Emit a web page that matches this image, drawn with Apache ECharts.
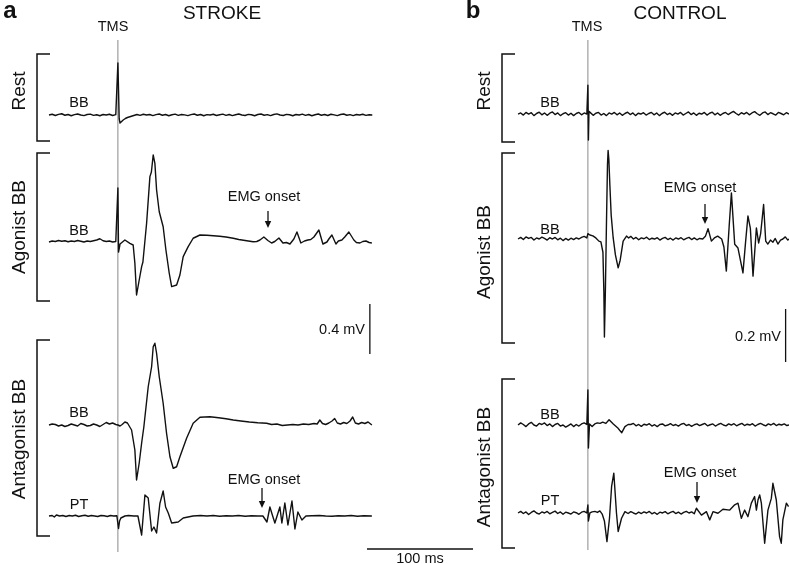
<!DOCTYPE html>
<html>
<head>
<meta charset="utf-8">
<script src="https://cdn.jsdelivr.net/npm/echarts@6/dist/echarts.min.js"></script>
<style>
html, body { margin: 0; padding: 0; background: #fff; }
#chart { width: 789px; height: 564px; }
</style>
</head>
<body>
<div id="chart"></div>
<script>
// time in ms after TMS, amplitude in mV (relative to each trace's baseline)

// STROKE (a)
var strokeRest = [[-65,0],[-62,0.006],[-59,-0.004],[-56,0.005],[-53,0.010],[-50,-0.002],[-47,0.004],[-44,-0.006],[-41,0.003],[-38,0.008],[-35,0],[-32,-0.005],[-29,0.004],[-26,0.007],[-23,-0.003],[-20,0.002],[-17,-0.006],[-14,0.004],[-11,0],[-8,0.006],[-5,-0.004],[-2,0.003],[-0.5,0],[0,0.416],[0.6,0.2],[1.2,-0.03],[2,-0.064],[3.5,-0.056],[5,-0.04],[7,-0.028],[9,-0.02],[12,-0.012],[15,-0.004],[18,0.004],[21,-0.003],[24,0.006],[27,0],[30,0.004],[33,-0.005],[36,0.003],[39,0.008],[42,-0.002],[45,0.004],[48,-0.006],[51,0.002],[54,0.007],[57,-0.003],[60,0.004],[63,0.001],[66,-0.005],[69,0.003],[72,0.008],[75,-0.002],[78,0.004],[81,-0.006],[84,0.003],[87,0],[90,0.006],[93,-0.004],[96,0.002],[99,0.007],[102,-0.003],[105,0.004],[108,-0.005],[111,0.002],[114,0.008],[117,0],[120,-0.004],[123,0.005],[126,0.002],[129,-0.006],[132,0.004],[135,0.008],[138,-0.002],[141,0.003],[144,-0.005],[147,0.004],[150,0.009],[153,0],[156,-0.004],[159,0.005],[162,0.002],[165,-0.006],[168,0.004],[171,0],[174,0.007],[177,-0.003],[180,0.004],[183,-0.006],[186,0.002],[189,0.008],[192,-0.002],[195,0.004],[198,-0.004],[201,0.006],[204,0.001],[207,-0.005],[210,0.004],[213,0.008],[216,-0.002],[219,0.003],[222,-0.005],[225,0.004],[228,0],[231,0.006],[234,-0.003],[237,0.002],[240,0]];

var strokeAgonist = [[-65,0],[-62,0.008],[-59,0.004],[-56,0.012],[-53,0.006],[-50,0.010],[-47,0.002],[-44,0.008],[-41,0.004],[-38,0.012],[-35,0.006],[-32,0],[-29,0.008],[-26,0.004],[-23,0.010],[-20,0.016],[-17,0.026],[-14,0.010],[-11,0.004],[-8,0.008],[-5,0],[-2,0.004],[-0.5,0],[0,0.432],[0.6,-0.08],[2,-0.016],[3.5,-0.011],[6.6,0.016],[11.3,-0.011],[14.4,-0.024],[16,-0.168],[17.6,-0.424],[20.1,-0.304],[22.4,-0.197],[23.6,-0.16],[27.1,0.152],[30.2,0.523],[31.6,0.56],[33.3,0.696],[34.9,0.629],[36.5,0.416],[39,0.242],[42.7,0.122],[45.3,-0.064],[48.4,-0.248],[50.7,-0.357],[55.4,-0.344],[58.5,-0.264],[61.6,-0.117],[66.3,-0.037],[71,0.03],[77.4,0.056],[84,0.054],[90,0.05],[96,0.046],[102,0.04],[108.8,0.03],[114,0.02],[120,0.012],[127.6,0.002],[131,0.004],[134,0.016],[137.7,0.04],[141.5,0.012],[145,-0.008],[148,0.004],[151.9,0.032],[155.7,-0.008],[159,-0.004],[162.3,-0.016],[166,0.024],[168.9,0.08],[172.6,-0.008],[176,0.008],[179.2,0.016],[182,0.02],[184.9,0.04],[189.6,0.096],[193.4,-0.016],[197.2,0],[199,0.024],[201.9,0.056],[205.7,-0.016],[208,0.008],[211.3,0.016],[214,0.04],[217.9,0.08],[222.6,0.016],[225,-0.004],[228.3,-0.008],[231,0.004],[234,0.008],[237,-0.004],[239.6,-0.008]];

var strokeAntBB = [[-65,0],[-62,0.008],[-59,0.004],[-56,-0.008],[-53,0],[-50,-0.012],[-47,-0.004],[-44,0.008],[-41,0],[-38,-0.008],[-35,0.012],[-32,0.004],[-29,-0.008],[-26,-0.004],[-23,0.008],[-20,0],[-17,-0.012],[-14,0.004],[-11,0.020],[-8,0.008],[-5,0.016],[-2,0.004],[0,0],[2,-0.008],[4,0.004],[6.6,0.024],[9,0.016],[12.9,-0.04],[16,-0.2],[17.6,-0.44],[20.1,-0.304],[22.4,-0.144],[24.5,-0.014],[28.6,0.306],[31.8,0.466],[33.3,0.626],[34.9,0.654],[36.5,0.574],[39,0.386],[42.7,0.174],[45.9,-0.066],[49.1,-0.254],[52.2,-0.346],[55.4,-0.334],[58.5,-0.254],[64.8,-0.106],[71,0.014],[77.4,0.062],[86.8,0.066],[95,0.058],[102,0.05],[108.8,0.04],[116,0.032],[124,0.024],[132,0.018],[140.3,0.014],[145,0.004],[150,0.008],[155,-0.004],[160,0],[165,0.004],[170,0],[175,0.008],[180,0.004],[185,0.012],[188,0.008],[190.5,0.04],[193,0.012],[196,0.004],[199,0.016],[202,0.032],[204.5,0.052],[207,0.016],[210,0.008],[213,0.02],[216,0.012],[219,0.032],[221.5,0.064],[224,0.016],[227,0.008],[230,0.02],[233,0.012],[236,0.024],[239.6,0]];

var strokeAntPT = [[-65,0],[-62,0.004],[-60,-0.008],[-58,0.008],[-55,0],[-52,0.004],[-49,-0.004],[-46,0.004],[-43,0],[-40,0.006],[-37,-0.004],[-34,0.002],[-31,0.006],[-28,-0.002],[-25,0.004],[-22,0],[-19,-0.004],[-16,0.004],[-13,0.002],[-10,-0.004],[-7,0.004],[-4,0],[-1,0.002],[0,0],[0.6,-0.1],[1.6,-0.04],[2.8,-0.016],[6.6,0],[10,0.004],[15,0],[18.9,0],[22.4,-0.152],[25.5,0.168],[28.6,0.144],[30.2,0.152],[31.8,-0.12],[34,-0.088],[36.5,-0.136],[39.6,0.1],[42.7,0.2],[45,0.072],[47.5,0.024],[50.7,-0.056],[56.9,-0.048],[61.6,-0.016],[70.8,0],[78,0.004],[84,0],[90,0.004],[96,-0.002],[102,0.002],[108,0],[114,0.004],[120,-0.002],[126,0.002],[132,0],[136.8,0],[140.6,-0.048],[143.4,0.072],[146,0],[148.1,-0.056],[152.8,0.072],[154.7,-0.056],[157.5,0.104],[160.4,-0.072],[164.2,0.12],[167,-0.104],[169.8,0.032],[173.6,-0.032],[177.4,0],[183,0.002],[190,0.004],[196,0],[202,-0.002],[208,0.002],[214,0],[220,0.004],[226,-0.002],[232,0.002],[239.6,0]];

// CONTROL (b)
var controlRest = [[-66,0],[-63.5,0.004],[-61,-0.004],[-58.5,0.006],[-56,0],[-53.5,0.005],[-51,-0.006],[-48.5,0.002],[-46,0.007],[-43.5,-0.003],[-41,0.004],[-38.5,-0.005],[-36,0.003],[-33.5,0.008],[-31,-0.002],[-28.5,0.004],[-26,-0.006],[-23.5,0.001],[-21,0.005],[-18.5,-0.004],[-16,0.003],[-13.5,-0.006],[-11,0.002],[-8.5,0.006],[-6,-0.003],[-3.5,0.004],[-1,0],[0,0.109],[0.5,-0.098],[1,0.01],[2.5,0.004],[5,-0.005],[7.5,0.003],[10,0.006],[12.5,-0.004],[15,0.002],[17.5,-0.006],[20,0.004],[22.5,0],[25,0.006],[27.5,-0.003],[30,0.004],[32.5,-0.005],[35,0.002],[37.5,0.007],[40,-0.002],[42.5,0.004],[45,-0.006],[47.5,0.003],[50,0],[52.5,0.005],[55,-0.004],[57.5,0.002],[60,0.006],[62.5,-0.003],[65,0.004],[67.5,-0.006],[70,0.002],[72.5,0.007],[75,-0.002],[77.5,0.003],[80,-0.005],[82.5,0.004],[85,0],[87.5,0.006],[90,-0.004],[92.5,0.002],[95,0.008],[97.5,-0.002],[100,0.004],[102.5,-0.005],[105,0.003],[107.5,0],[110,0.006],[112.5,-0.004],[115,0.003],[117.5,0.007],[120,-0.003],[122.5,0.004],[125,-0.005],[127.5,0.002],[130,0.006],[132.5,-0.002],[135,0.004],[137.5,0.010],[140,0.002],[142.5,-0.004],[145,0.005],[147.5,0],[150,0.006],[152.5,-0.003],[155,0.004],[157.5,0.009],[160,0.001],[162.5,-0.005],[165,0.004],[167.5,0.008],[170,-0.002],[172.5,0.005],[175,0.001],[177.5,-0.004],[180,0.006],[182.5,0.002],[185,-0.003],[187.5,0.005],[190,0]];

var controlAgonist = [[-66,0],[-63.5,0.006],[-61,-0.002],[-58.5,0.008],[-56,0.002],[-53.5,0.006],[-51,-0.004],[-48.5,0.004],[-46,0],[-43.5,0.007],[-41,0.002],[-38.5,-0.004],[-36,0.005],[-33.5,0],[-31,0.006],[-28.5,-0.003],[-26,0.003],[-23.5,-0.006],[-21,0.002],[-18.5,-0.004],[-16,0.003],[-13.5,-0.002],[-11,0.004],[-8.5,0],[-6,0.006],[-3.5,0.01],[-1,0.004],[0,0.02],[1.9,0.015],[4.7,0.012],[7.5,0.004],[10.4,-0.008],[12.3,-0.011],[13.5,-0.011],[14.2,-0.05],[15.1,-0.2],[15.6,-0.37],[16.5,-0.2],[17.5,0.05],[18.5,0.28],[19.1,0.334],[19.8,0.3],[20.8,0.2],[22,0.09],[23.9,0.004],[26,-0.06],[28.6,-0.109],[30.5,-0.08],[33.3,-0.008],[36.5,0.011],[38.5,0.004],[40.5,0.010],[43,0],[45.5,0.006],[48,-0.003],[50.5,0.004],[53,0.001],[55.5,0.007],[58,-0.002],[60.5,0.003],[63,0],[65.5,0.005],[68,-0.004],[70.5,0.002],[73,0.006],[75.5,-0.002],[78,0.003],[80.5,-0.004],[83,0.004],[85.5,0],[88,0.005],[90.5,-0.003],[93,0.002],[95.5,0.006],[98,-0.002],[100.5,0.004],[103,-0.003],[105.5,0.002],[108.5,0],[111,0.01],[113.5,0.039],[116.7,-0.008],[119.5,0.004],[122.6,0.011],[126.4,0],[128.5,-0.03],[130.8,-0.121],[133.5,0.05],[135.6,0.174],[138.7,-0.02],[141.8,-0.034],[146.5,-0.128],[149,-0.01],[151.2,0.087],[153.5,0.04],[156,-0.14],[159.2,0.042],[161.3,-0.015],[163.2,0.02],[166,0.13],[168,-0.008],[170,-0.019],[172.5,-0.004],[174.8,-0.012],[177,0.002],[179.5,-0.019],[182,-0.004],[184.2,0],[186.5,0.008],[188.9,-0.004],[190,0]];

var controlAntBB = [[-66,0],[-63.5,0.008],[-61,0.002],[-58.5,-0.006],[-56,0.004],[-53.5,0.010],[-51,0],[-48.5,-0.004],[-46,0.006],[-43.5,0.002],[-41,0.008],[-38.5,-0.002],[-36,0.004],[-33.5,-0.006],[-31,0.002],[-28.5,0.006],[-26,-0.004],[-23.5,0],[-21,-0.008],[-18.5,-0.002],[-16,0.004],[-13.5,-0.006],[-11,0.002],[-8.5,-0.004],[-6,0.004],[-3.5,0.008],[-1,0.002],[0,0.132],[0.5,-0.087],[1.5,0.004],[4,-0.006],[6.5,0.004],[9,0.008],[11.5,0.006],[14,0.011],[17,0.006],[20,0.02],[24,0.004],[28,-0.01],[30,-0.02],[32,-0.029],[35,-0.006],[38,0.002],[40.5,0.002],[43,0.006],[45.5,-0.003],[48,0.002],[50.5,-0.005],[53,0.003],[55.5,0],[58,0.005],[60.5,-0.004],[63,0.001],[65.5,-0.006],[68,0.002],[70.5,0.004],[73,-0.003],[75.5,0],[78,0.005],[80.5,-0.002],[83,0.002],[85.5,-0.004],[88,0.003],[90.5,0.006],[93,-0.002],[95.5,0.002],[98,-0.005],[100.5,0.001],[103,0.004],[105.5,-0.002],[108,0.002],[110.5,0.006],[113,-0.003],[115.5,0.001],[118,0.004],[120.5,-0.004],[123,0.002],[125.5,0.006],[128,0],[130.5,-0.003],[133,0.004],[135.5,0],[138,0.005],[140.5,-0.003],[143,0.002],[145.5,0.006],[148,-0.002],[150.5,0.003],[153,0],[155.5,0.005],[158,-0.004],[160.5,0.002],[163,0.006],[165.5,0.001],[168,-0.003],[170.5,0.004],[173,0],[175.5,0.006],[178,-0.002],[180.5,0.003],[183,0],[185.5,0.004],[188,-0.002],[190,0]];

var controlAntPT = [[-66,0],[-63.5,0.006],[-61,-0.002],[-58.5,0.004],[-56,-0.006],[-53.5,0.002],[-51,0.008],[-48.5,0],[-46,-0.004],[-43.5,0.004],[-41,0],[-38.5,0.006],[-36,-0.003],[-33.5,0.002],[-31,0.007],[-28.5,-0.002],[-26,0.004],[-23.5,-0.005],[-21,0.003],[-18.5,0],[-16,-0.004],[-13.5,0.004],[-11,0.001],[-8.5,-0.005],[-6,0.003],[-3.5,0.006],[-1,0],[0,0.03],[0.5,-0.03],[1.9,0],[4,0.004],[6.6,0.006],[9,0.002],[11.3,0.008],[13.5,-0.004],[15.6,-0.03],[18,-0.108],[20.4,-0.02],[22.4,0.1],[24.5,0.15],[27,0],[28.6,-0.07],[31.8,-0.02],[35,0.005],[38,-0.002],[40.5,0.005],[43,0],[45.5,-0.004],[48,0.003],[50.5,-0.002],[53,0.004],[55.5,0],[58,0.006],[60.5,-0.003],[63,0.002],[65.5,-0.005],[68,0.003],[70.5,0],[73,0.005],[75.5,-0.003],[78,0.002],[80.5,0.006],[83,-0.002],[85.5,0.003],[88,-0.004],[90.5,0.002],[93,0.006],[95.5,0],[98,0.004],[100.5,-0.003],[102.5,0.018],[107.3,-0.008],[112,0.005],[115.1,-0.026],[118.2,0.005],[122.9,-0.001],[127.6,0.014],[134,0.011],[138.7,0.031],[141.8,0.037],[145,-0.02],[148.1,0.011],[151.2,-0.014],[154.4,0.037],[157.5,0.062],[159.2,0.011],[160.7,0.049],[162.3,0.068],[163.9,0.037],[167,-0.114],[170.1,0.011],[173.3,0.055],[174.8,0.112],[178,0.049],[181.1,-0.089],[182.7,-0.114],[184.2,-0.026],[187.5,0.037],[189.6,0.024]];

// scale bars
var scaleMs = 100;
var scaleMvStroke = 0.4;
var scaleMvControl = 0.2;

// layout (pixels / axis positions)
var PX_PER_MS = 1.06;
var PX_PER_MV_A = 125, PX_PER_MV_B = 265;
var GRID_TOP = 14, GRID_H = 550;
var offsetsA = [3.592, 2.576, 1.112, 0.384];
var offsetsB = [1.698, 1.2264, 0.5245, 0.1925];
var FONT = '"Liberation Sans", Arial, Helvetica, sans-serif';

function shift(pts, off) {
    return pts.map(function(p) { return [p[0], p[1] + off]; });
}

function trace(pts, off, gi) {
    return {
        type: 'line', xAxisIndex: gi, yAxisIndex: gi,
        data: shift(pts, off), showSymbol: false, symbol: 'none',
        silent: true, animation: false, clip: false,
        lineStyle: { color: '#111', width: 1.4, join: 'round' }
    };
}

function seg(a, b, gi, color, width) {
    return {
        type: 'line', xAxisIndex: gi, yAxisIndex: gi,
        data: [a, b], showSymbol: false, symbol: 'none',
        silent: true, animation: false, clip: false,
        lineStyle: { color: color, width: width }
    };
}

function txt(x, y, s, size, opts) {
    opts = opts || {};
    return {
        type: 'text', x: x, y: y, rotation: opts.rot || 0, silent: true,
        style: {
            text: s, fill: '#111',
            font: (opts.bold ? 'bold ' : '') + size + 'px ' + FONT,
            textAlign: opts.align || 'center', align: opts.align || 'center',
            textVerticalAlign: 'middle', verticalAlign: 'middle'
        }
    };
}

function bracket(x, y1, y2) {
    return {
        type: 'polyline', silent: true,
        shape: { points: [[x + 13, y1], [x, y1], [x, y2], [x + 13, y2]] },
        style: { stroke: '#111', lineWidth: 1.5, fill: null }
    };
}

function arrow(x, y1, y2) {
    return [
        { type: 'line', silent: true, shape: { x1: x, y1: y1, x2: x, y2: y2 - 5 },
          style: { stroke: '#111', lineWidth: 1.3 } },
        { type: 'polygon', silent: true, shape: { points: [[x - 3.2, y2 - 7], [x + 3.2, y2 - 7], [x, y2]] },
          style: { fill: '#111' } }
    ];
}

var series = [];
// TMS markers
series.push(seg([0, (564 - 40) / PX_PER_MV_A], [0, (564 - 552) / PX_PER_MV_A], 0, '#8a8a8a', 1));
series.push(seg([0, (564 - 40) / PX_PER_MV_B], [0, (564 - 550) / PX_PER_MV_B], 1, '#8a8a8a', 1));

[strokeRest, strokeAgonist, strokeAntBB, strokeAntPT].forEach(function(t, i) {
    series.push(trace(t, offsetsA[i], 0));
});
[controlRest, controlAgonist, controlAntBB, controlAntPT].forEach(function(t, i) {
    series.push(trace(t, offsetsB[i], 1));
});

// amplitude scale bars
var barAx = 237.7, barAy = (564 - 354) / PX_PER_MV_A;
series.push(seg([barAx, barAy], [barAx, barAy + scaleMvStroke], 0, '#111', 1.3));
var barBx = 186.8, barBy = (564 - 362) / PX_PER_MV_B;
series.push(seg([barBx, barBy], [barBx, barBy + scaleMvControl], 1, '#111', 1.3));

// time scale bar (lies between the two panels)
var tBarX = 367, tBarY = 549;

var graphics = [
    txt(10, 11, 'a', 24, { bold: true }),
    txt(222, 14, 'STROKE', 19),
    txt(473, 11, 'b', 24, { bold: true }),
    txt(680, 14, 'CONTROL', 19),
    txt(113, 27, 'TMS', 14.5),
    txt(587, 27, 'TMS', 14.5),
    // row labels
    txt(20, 91, 'Rest', 19, { rot: Math.PI / 2 }),
    txt(20, 227, 'Agonist BB', 19, { rot: Math.PI / 2 }),
    txt(20, 439, 'Antagonist BB', 19, { rot: Math.PI / 2 }),
    txt(485, 91, 'Rest', 19, { rot: Math.PI / 2 }),
    txt(485, 252, 'Agonist BB', 19, { rot: Math.PI / 2 }),
    txt(485, 467, 'Antagonist BB', 19, { rot: Math.PI / 2 }),
    // muscle labels
    txt(79, 103, 'BB', 14.5), txt(79, 231, 'BB', 14.5), txt(79, 413, 'BB', 14.5), txt(79, 505, 'PT', 14.5),
    txt(550, 103, 'BB', 14.5), txt(550, 230, 'BB', 14.5), txt(550, 415, 'BB', 14.5), txt(550, 501, 'PT', 14.5),
    // EMG onset
    txt(264, 197, 'EMG onset', 14.5), txt(264, 480, 'EMG onset', 14.5),
    txt(700, 188, 'EMG onset', 14.5), txt(700, 473, 'EMG onset', 14.5),
    // scale labels
    txt(365, 330, scaleMvStroke + ' mV', 14.5, { align: 'right' }),
    txt(781, 337, scaleMvControl + ' mV', 14.5, { align: 'right' }),
    txt(tBarX + scaleMs * PX_PER_MS / 2, 559, scaleMs + ' ms', 14.5),
    { type: 'line', silent: true,
      shape: { x1: tBarX, y1: tBarY, x2: tBarX + scaleMs * PX_PER_MS, y2: tBarY },
      style: { stroke: '#111', lineWidth: 1.3 } },
    // brackets
    bracket(37, 54, 141), bracket(37, 153, 301), bracket(37, 340, 536),
    bracket(502, 54, 142), bracket(502, 153, 343), bracket(502, 379, 548)
].concat(arrow(268, 211, 228), arrow(262, 488, 508), arrow(705, 204, 224), arrow(697, 482, 503));

var chart = echarts.init(document.getElementById('chart'));
chart.setOption({
    animation: false,
    backgroundColor: '#fff',
    grid: [
        { left: 49, top: GRID_TOP, width: (240 + 65) * PX_PER_MS, height: GRID_H },
        { left: 588 - 66 * PX_PER_MS, top: GRID_TOP, width: (190 + 66) * PX_PER_MS, height: GRID_H }
    ],
    xAxis: [
        { gridIndex: 0, type: 'value', min: -65, max: 240, show: false },
        { gridIndex: 1, type: 'value', min: -66, max: 190, show: false }
    ],
    yAxis: [
        { gridIndex: 0, type: 'value', min: 0, max: GRID_H / PX_PER_MV_A, show: false },
        { gridIndex: 1, type: 'value', min: 0, max: GRID_H / PX_PER_MV_B, show: false }
    ],
    graphic: graphics,
    series: series
});
</script>
</body>
</html>
